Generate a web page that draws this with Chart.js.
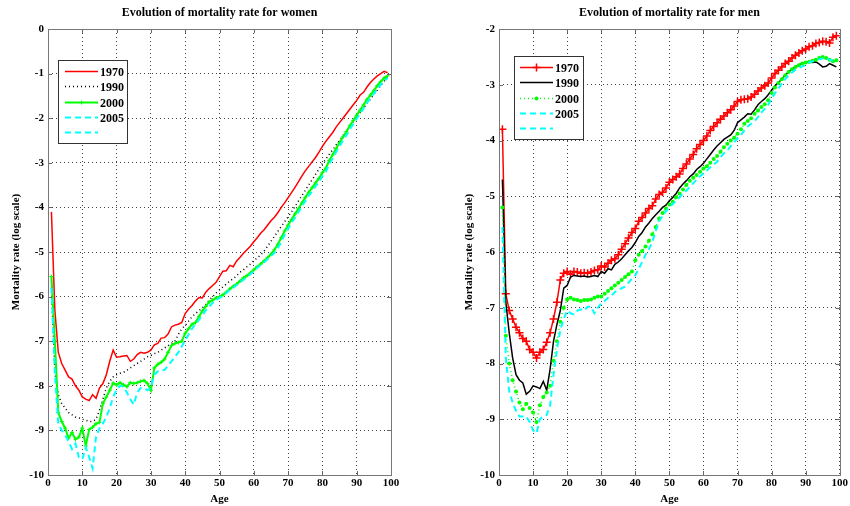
<!DOCTYPE html>
<html>
<head>
<meta charset="utf-8">
<script src="https://cdn.jsdelivr.net/npm/chart.js@4.4.0/dist/chart.umd.min.js"></script>
<style>
html, body { margin: 0; padding: 0; background: #fff; }
#wrap { position: relative; width: 850px; height: 506px; }
canvas { position: absolute; top: 0; }
#women { left: 0; }
#men { left: 425px; }
</style>
</head>
<body>
<div id="wrap">
<canvas id="women" width="425" height="506"></canvas>
<canvas id="men" width="425" height="506"></canvas>
</div>
<script>
// ages (x categories)
const ages = [1, 2, 3, 4, 5, 6, 7, 8, 9, 10, 11, 12, 13, 14, 15, 16, 17, 18, 19, 20,
  21, 22, 23, 24, 25, 26, 27, 28, 29, 30, 31, 32, 33, 34, 35, 36, 37, 38, 39, 40,
  41, 42, 43, 44, 45, 46, 47, 48, 49, 50, 51, 52, 53, 54, 55, 56, 57, 58, 59, 60,
  61, 62, 63, 64, 65, 66, 67, 68, 69, 70, 71, 72, 73, 74, 75, 76, 77, 78, 79, 80,
  81, 82, 83, 84, 85, 86, 87, 88, 89, 90, 91, 92, 93, 94, 95, 96, 97, 98, 99];

const xTicks = [0, 10, 20, 30, 40, 50, 60, 70, 80, 90, 100];
const yearLabels = ['1970', '1990', '2000', '2005', ''];

// women, log mortality rate
const women1970 = [-4.1, -6.3, -7.25, -7.5, -7.65, -7.8, -7.85, -8.0, -8.1, -8.25,
  -8.3, -8.33, -8.2, -8.28, -8.05, -7.95, -7.75, -7.45, -7.2, -7.36,
  -7.35, -7.33, -7.32, -7.45, -7.4, -7.3, -7.25, -7.27, -7.25, -7.2,
  -7.08, -7.05, -6.93, -6.92, -6.84, -6.68, -6.64, -6.62, -6.58, -6.38,
  -6.28, -6.2, -6.1, -6.02, -6.03, -5.9, -5.82, -5.75, -5.68, -5.55,
  -5.43, -5.42, -5.3, -5.33, -5.2, -5.12, -5.03, -4.95, -4.87, -4.77,
  -4.68, -4.58, -4.5, -4.4, -4.3, -4.22, -4.12, -4.0, -3.9, -3.78,
  -3.67, -3.55, -3.43, -3.3, -3.18, -3.08, -2.98, -2.88, -2.76, -2.63,
  -2.52, -2.42, -2.32, -2.2, -2.1, -2.0, -1.9, -1.8, -1.7, -1.6,
  -1.48, -1.42, -1.3, -1.2, -1.12, -1.05, -1.0, -0.95, -0.98];
const women1990 = [-5.8, -7.7, -8.2, -8.4, -8.5, -8.6, -8.65, -8.7, -8.72, -8.75,
  -8.77, -8.8, -8.8, -8.75, -8.55, -8.3, -8.05, -7.9, -7.8, -7.75,
  -7.72, -7.7, -7.65, -7.6, -7.55, -7.5, -7.45, -7.4, -7.35, -7.32,
  -7.28, -7.25, -7.2, -7.15, -7.1, -7.05, -7.0, -6.85, -6.72, -6.65,
  -6.55, -6.45, -6.38, -6.32, -6.25, -6.18, -6.08, -6.0, -5.92, -5.85,
  -5.78, -5.72, -5.65, -5.6, -5.53, -5.45, -5.4, -5.33, -5.27, -5.2,
  -5.13, -5.07, -4.98, -4.87, -4.76, -4.65, -4.54, -4.43, -4.32, -4.21,
  -4.1, -3.98, -3.86, -3.74, -3.62, -3.5, -3.38, -3.26, -3.14, -3.02,
  -2.92, -2.81, -2.71, -2.6, -2.5, -2.39, -2.29, -2.18, -2.07, -1.97,
  -1.87, -1.77, -1.67, -1.57, -1.47, -1.37, -1.27, -1.17, -1.07];
const women2000 = [-5.55, -7.0, -8.6, -8.8, -8.95, -9.17, -9.05, -9.2, -9.15, -8.95,
  -9.35, -8.98, -8.93, -8.85, -8.82, -8.4, -8.25, -8.1, -7.94, -7.98,
  -7.93, -7.98, -8.02, -7.93, -7.95, -7.93, -7.9, -7.88, -7.95, -8.1,
  -7.6, -7.52, -7.47, -7.4, -7.25, -7.1, -7.05, -7.03, -7.0, -6.82,
  -6.72, -6.62, -6.58, -6.45, -6.32, -6.22, -6.12, -6.08, -6.03, -6.0,
  -5.96, -5.9, -5.83, -5.77, -5.72, -5.65, -5.58, -5.53, -5.47, -5.4,
  -5.33, -5.27, -5.2, -5.13, -5.05, -4.95, -4.83, -4.68, -4.53, -4.4,
  -4.27, -4.15, -4.03, -3.9, -3.78, -3.66, -3.56, -3.45, -3.35, -3.22,
  -3.12, -2.95, -2.82, -2.68, -2.55, -2.42, -2.3, -2.17, -2.05, -1.93,
  -1.82, -1.7, -1.58, -1.48, -1.38, -1.27, -1.18, -1.1, -1.05];
const women2005 = [-5.8, -7.7, -8.85, -9.0, -9.1, -9.25, -9.42, -9.3, -9.6, -9.65,
  -9.38, -9.6, -9.85, -9.15, -8.95, -8.85, -8.7, -8.5, -8.25, -8.08,
  -8.0, -8.02, -8.15, -8.3, -8.42, -8.15, -8.05, -8.05, -8.1, -8.05,
  -7.75, -7.68, -7.66, -7.64, -7.55, -7.45, -7.35, -7.25, -7.12, -6.98,
  -6.85, -6.72, -6.62, -6.52, -6.42, -6.31, -6.22, -6.14, -6.08, -6.03,
  -5.98, -5.92, -5.85, -5.8, -5.74, -5.68, -5.62, -5.56, -5.5, -5.43,
  -5.36, -5.29, -5.23, -5.16, -5.09, -5.02, -4.92, -4.77, -4.62, -4.48,
  -4.35, -4.23, -4.11, -3.98, -3.86, -3.74, -3.64, -3.53, -3.43, -3.3,
  -3.2, -3.03, -2.9, -2.76, -2.63, -2.5, -2.38, -2.25, -2.13, -2.01,
  -1.9, -1.78, -1.66, -1.55, -1.45, -1.34, -1.25, -1.17, -1.1];

// men, log mortality rate
const men1970 = [-3.8, -6.75, -7.05, -7.2, -7.35, -7.45, -7.55, -7.6, -7.75, -7.8,
  -7.9, -7.8, -7.75, -7.62, -7.45, -7.2, -6.9, -6.5, -6.38, -6.35,
  -6.4, -6.35, -6.36, -6.38, -6.37, -6.38, -6.36, -6.33, -6.32, -6.25,
  -6.27, -6.2, -6.15, -6.12, -6.05, -5.95, -5.85, -5.75, -5.65, -5.58,
  -5.45, -5.38, -5.3, -5.22, -5.17, -5.05, -4.97, -4.93, -4.85, -4.75,
  -4.7, -4.65, -4.6, -4.5, -4.42, -4.33, -4.25, -4.15, -4.07, -4.0,
  -3.92, -3.82, -3.75, -3.68, -3.62, -3.56, -3.5, -3.45, -3.38, -3.3,
  -3.27, -3.26, -3.25, -3.22, -3.17, -3.11, -3.06, -3.02, -2.97, -2.88,
  -2.8, -2.74, -2.68, -2.62, -2.58, -2.52, -2.47, -2.43, -2.39, -2.36,
  -2.32, -2.3, -2.26, -2.24, -2.22, -2.23, -2.25, -2.15, -2.12];
const men1990 = [-4.7, -6.9, -7.45, -7.9, -8.2, -8.3, -8.35, -8.55, -8.5, -8.4,
  -8.42, -8.45, -8.32, -8.48, -8.1, -7.6, -7.3, -7.05, -6.65, -6.6,
  -6.45, -6.42, -6.43, -6.44, -6.43, -6.45, -6.44, -6.42, -6.44, -6.35,
  -6.38, -6.3, -6.32, -6.22, -6.18, -6.12, -6.05, -5.98, -5.92, -5.83,
  -5.72, -5.65, -5.55, -5.48, -5.4, -5.33, -5.27, -5.2, -5.16, -5.08,
  -5.02, -4.95, -4.85, -4.78, -4.72, -4.65, -4.6, -4.52, -4.47, -4.41,
  -4.33, -4.25, -4.17, -4.1, -4.04, -3.98, -3.94, -3.9, -3.82, -3.68,
  -3.63, -3.58, -3.52, -3.53, -3.45, -3.36, -3.3, -3.25, -3.18, -3.1,
  -3.02, -2.96, -2.9, -2.83, -2.77, -2.72, -2.68, -2.64, -2.62, -2.6,
  -2.59, -2.6, -2.59, -2.63, -2.68, -2.67, -2.62, -2.65, -2.68];
const men2000 = [-5.2, -7.5, -8.0, -8.3, -8.5, -8.7, -8.82, -8.72, -8.8, -8.88,
  -9.05, -8.75, -8.6, -8.52, -8.4, -7.95, -7.6, -7.25, -7.0, -6.85,
  -6.82, -6.85, -6.86, -6.88, -6.86, -6.86, -6.85, -6.82, -6.8, -6.8,
  -6.75, -6.7, -6.65, -6.6, -6.55, -6.5, -6.45, -6.4, -6.35, -6.15,
  -6.05, -5.98, -5.9, -5.8, -5.68, -5.55, -5.4, -5.3, -5.22, -5.15,
  -5.1, -5.02, -4.95, -4.88, -4.8, -4.72, -4.67, -4.62, -4.56, -4.5,
  -4.46, -4.4, -4.33, -4.28, -4.2, -4.12, -4.06, -4.0, -3.95, -3.88,
  -3.8, -3.7, -3.65, -3.6, -3.52, -3.46, -3.4, -3.35, -3.28, -3.15,
  -3.05, -2.97, -2.9, -2.83, -2.77, -2.72, -2.68, -2.65, -2.62, -2.6,
  -2.59, -2.57, -2.55, -2.52, -2.5, -2.52, -2.55, -2.58, -2.56];
const men2005 = [-5.55, -7.9, -8.5, -8.7, -8.85, -8.95, -8.95, -8.95, -9.05, -9.2,
  -9.25, -9.0, -8.95, -8.92, -8.75, -8.2, -7.75, -7.4, -7.2, -7.05,
  -7.1, -7.12, -7.05, -7.03, -7.05, -6.98, -6.98, -7.1, -7.0, -6.92,
  -6.88, -6.82, -6.78, -6.72, -6.68, -6.65, -6.62, -6.55, -6.48, -6.42,
  -6.3, -6.18, -6.05, -5.95, -5.82, -5.62, -5.45, -5.35, -5.27, -5.2,
  -5.14, -5.08, -5.02, -4.95, -4.9, -4.83, -4.77, -4.7, -4.64, -4.59,
  -4.54, -4.48, -4.43, -4.38, -4.3, -4.23, -4.18, -4.1, -4.03, -3.96,
  -3.9, -3.82, -3.75, -3.7, -3.65, -3.58, -3.5, -3.43, -3.36, -3.25,
  -3.15, -3.07, -2.98, -2.9, -2.83, -2.78, -2.73, -2.7, -2.67, -2.65,
  -2.6, -2.58, -2.56, -2.54, -2.53, -2.53, -2.55, -2.57, -2.56];

const FONT = '"Liberation Serif", "DejaVu Serif", serif';

function points(values) {
  return ages.map((a, i) => ({ x: a, y: values[i] }));
}

// Frame, inward tick marks, title and the boxed legend
const decorPlugin = {
  id: 'decor',
  afterDraw(chart, args, opts) {
    const ctx = chart.ctx;
    const a = chart.chartArea;
    const xs = chart.scales.x;
    const ys = chart.scales.y;
    ctx.save();
    ctx.setLineDash([]);

    // tick marks pointing into the plot
    ctx.strokeStyle = '#666';
    ctx.lineWidth = 1;
    ctx.beginPath();
    xs.ticks.forEach(t => {
      const px = Math.round(xs.getPixelForValue(t.value)) + 0.5;
      ctx.moveTo(px, a.bottom); ctx.lineTo(px, a.bottom - 4);
      ctx.moveTo(px, a.top); ctx.lineTo(px, a.top + 4);
    });
    ys.ticks.forEach(t => {
      const py = Math.round(ys.getPixelForValue(t.value)) + 0.5;
      ctx.moveTo(a.left, py); ctx.lineTo(a.left + 4, py);
      ctx.moveTo(a.right, py); ctx.lineTo(a.right - 4, py);
    });
    ctx.stroke();

    // frame
    ctx.strokeStyle = '#777';
    ctx.strokeRect(Math.round(a.left) + 0.5, Math.round(a.top) + 0.5,
      Math.round(a.right - a.left), Math.round(a.bottom - a.top));

    // title
    ctx.fillStyle = '#000';
    ctx.font = 'bold 12px ' + FONT;
    ctx.textAlign = 'center';
    ctx.textBaseline = 'middle';
    ctx.fillText(opts.title, (a.left + a.right) / 2, opts.titleY);

    // legend
    const lg = opts.legend;
    ctx.fillStyle = '#fff';
    ctx.fillRect(lg.x, lg.y, lg.w, lg.h);
    ctx.strokeStyle = '#333';
    ctx.strokeRect(lg.x + 0.5, lg.y + 0.5, lg.w, lg.h);
    ctx.font = 'bold 12px ' + FONT;
    ctx.textAlign = 'left';
    chart.data.datasets.forEach((ds, i) => {
      const y = Math.round(lg.rowY + i * lg.rowGap) + 0.5;
      ctx.strokeStyle = ds.borderColor;
      ctx.lineWidth = ds.borderWidth;
      ctx.setLineDash(ds.borderDash || []);
      ctx.beginPath();
      ctx.moveTo(lg.lineX1, y);
      ctx.lineTo(lg.lineX2, y);
      ctx.stroke();
      ctx.setLineDash([]);
      const mx = (lg.lineX1 + lg.lineX2) / 2;
      if (ds.pointRadius > 0 && ds.pointStyle === 'cross') {
        const r = ds.pointRadius;
        ctx.lineWidth = ds.pointBorderWidth || 1;
        ctx.beginPath();
        ctx.moveTo(mx - r, y); ctx.lineTo(mx + r, y);
        ctx.moveTo(mx, y - r); ctx.lineTo(mx, y + r);
        ctx.stroke();
      } else if (ds.pointRadius > 0) {
        ctx.fillStyle = ds.borderColor;
        ctx.beginPath();
        ctx.arc(mx, y, ds.pointRadius, 0, Math.PI * 2);
        ctx.fill();
      }
      ctx.fillStyle = '#000';
      ctx.fillText(ds.label, lg.textX, y + 1);
    });
    ctx.restore();
  }
};

function makeChart(id, datasets, yMin, yMax, opts) {
  const gridStyle = { color: 'rgba(0,0,0,0.75)', lineWidth: 1, drawTicks: false };
  const tickFont = { family: FONT, size: 11, weight: 'bold' };
  return new Chart(document.getElementById(id), {
    type: 'line',
    data: { datasets: datasets },
    options: {
      responsive: false,
      animation: false,
      devicePixelRatio: 1,
      layout: { padding: { top: 29, right: opts.padRight, bottom: 0, left: opts.padLeft } },
      plugins: {
        legend: { display: false },
        tooltip: { enabled: false },
        decor: opts.decor
      },
      scales: {
        x: {
          type: 'linear',
          min: 0,
          max: 100,
          afterBuildTicks: s => { s.ticks = xTicks.map(v => ({ value: v })); },
          ticks: { color: '#000', font: tickFont, padding: 2, maxRotation: 0 },
          grid: gridStyle,
          border: { display: false, dash: [1, 3] },
          title: { display: true, text: 'Age', color: '#000', font: tickFont, padding: 0 },
          afterFit: s => { s.height = 31; }
        },
        y: {
          min: yMin,
          max: yMax,
          ticks: { stepSize: 1, color: '#000', font: tickFont, padding: 4 },
          grid: gridStyle,
          border: { display: false, dash: [1, 3] },
          title: {
            display: true, text: 'Mortality rate (log scale)', color: '#000',
            font: { family: FONT, size: 11, weight: 'bold' }, padding: { top: 10, bottom: 0 }
          },
          afterFit: s => { s.width = opts.yWidth; }
        }
      }
    },
    plugins: [decorPlugin]
  });
}

const cyan = '#00ffff';
const green = '#00ff00';

const womenSets = [
  { label: yearLabels[0], data: points(women1970), borderColor: '#ff0000', borderWidth: 1.5, pointRadius: 0, order: 4 },
  { label: yearLabels[1], data: points(women1990), borderColor: '#000000', borderWidth: 1.5, borderDash: [1, 3], pointRadius: 0, order: 3 },
  { label: yearLabels[2], data: points(women2000), borderColor: green, borderWidth: 2, pointRadius: 2, pointStyle: 'cross', pointBorderColor: green, pointBorderWidth: 1, order: 2 },
  { label: yearLabels[3], data: points(women2005), borderColor: cyan, borderWidth: 2, borderDash: [6, 4], pointRadius: 0, order: 1 },
  { label: yearLabels[4], data: [], borderColor: cyan, borderWidth: 2, borderDash: [6, 4], pointRadius: 0, order: 0 }
];

const menSets = [
  { label: yearLabels[0], data: points(men1970), borderColor: '#ff0000', borderWidth: 1.5, pointRadius: 4, pointStyle: 'cross', pointBorderColor: '#ff0000', pointBorderWidth: 1.5, order: 4 },
  { label: yearLabels[1], data: points(men1990), borderColor: '#000000', borderWidth: 1.5, pointRadius: 0, order: 3 },
  { label: yearLabels[2], data: points(men2000), borderColor: green, borderWidth: 1.5, borderDash: [1, 3], pointRadius: 2, pointStyle: 'circle', pointBackgroundColor: green, pointBorderColor: green, pointBorderWidth: 0, order: 2 },
  { label: yearLabels[3], data: points(men2005), borderColor: cyan, borderWidth: 2, borderDash: [6, 4], pointRadius: 0, order: 1 },
  { label: yearLabels[4], data: [], borderColor: cyan, borderWidth: 2, borderDash: [6, 4], pointRadius: 0, order: 0 }
];

makeChart('women', womenSets, -10, 0, {
  padLeft: 0, padRight: 34, yWidth: 48,
  decor: {
    title: 'Evolution of mortality rate for women', titleY: 13,
    legend: { x: 58, y: 60, w: 69, h: 83, rowY: 71, rowGap: 15.3, lineX1: 65, lineX2: 98, textX: 100 }
  }
});

makeChart('men', menSets, -10, -2, {
  padLeft: 28, padRight: 8, yWidth: 46,
  decor: {
    title: 'Evolution of mortality rate for men', titleY: 13,
    legend: { x: 89, y: 56, w: 69, h: 83, rowY: 67, rowGap: 15.3, lineX1: 95, lineX2: 128, textX: 130 }
  }
});
</script>
</body>
</html>
